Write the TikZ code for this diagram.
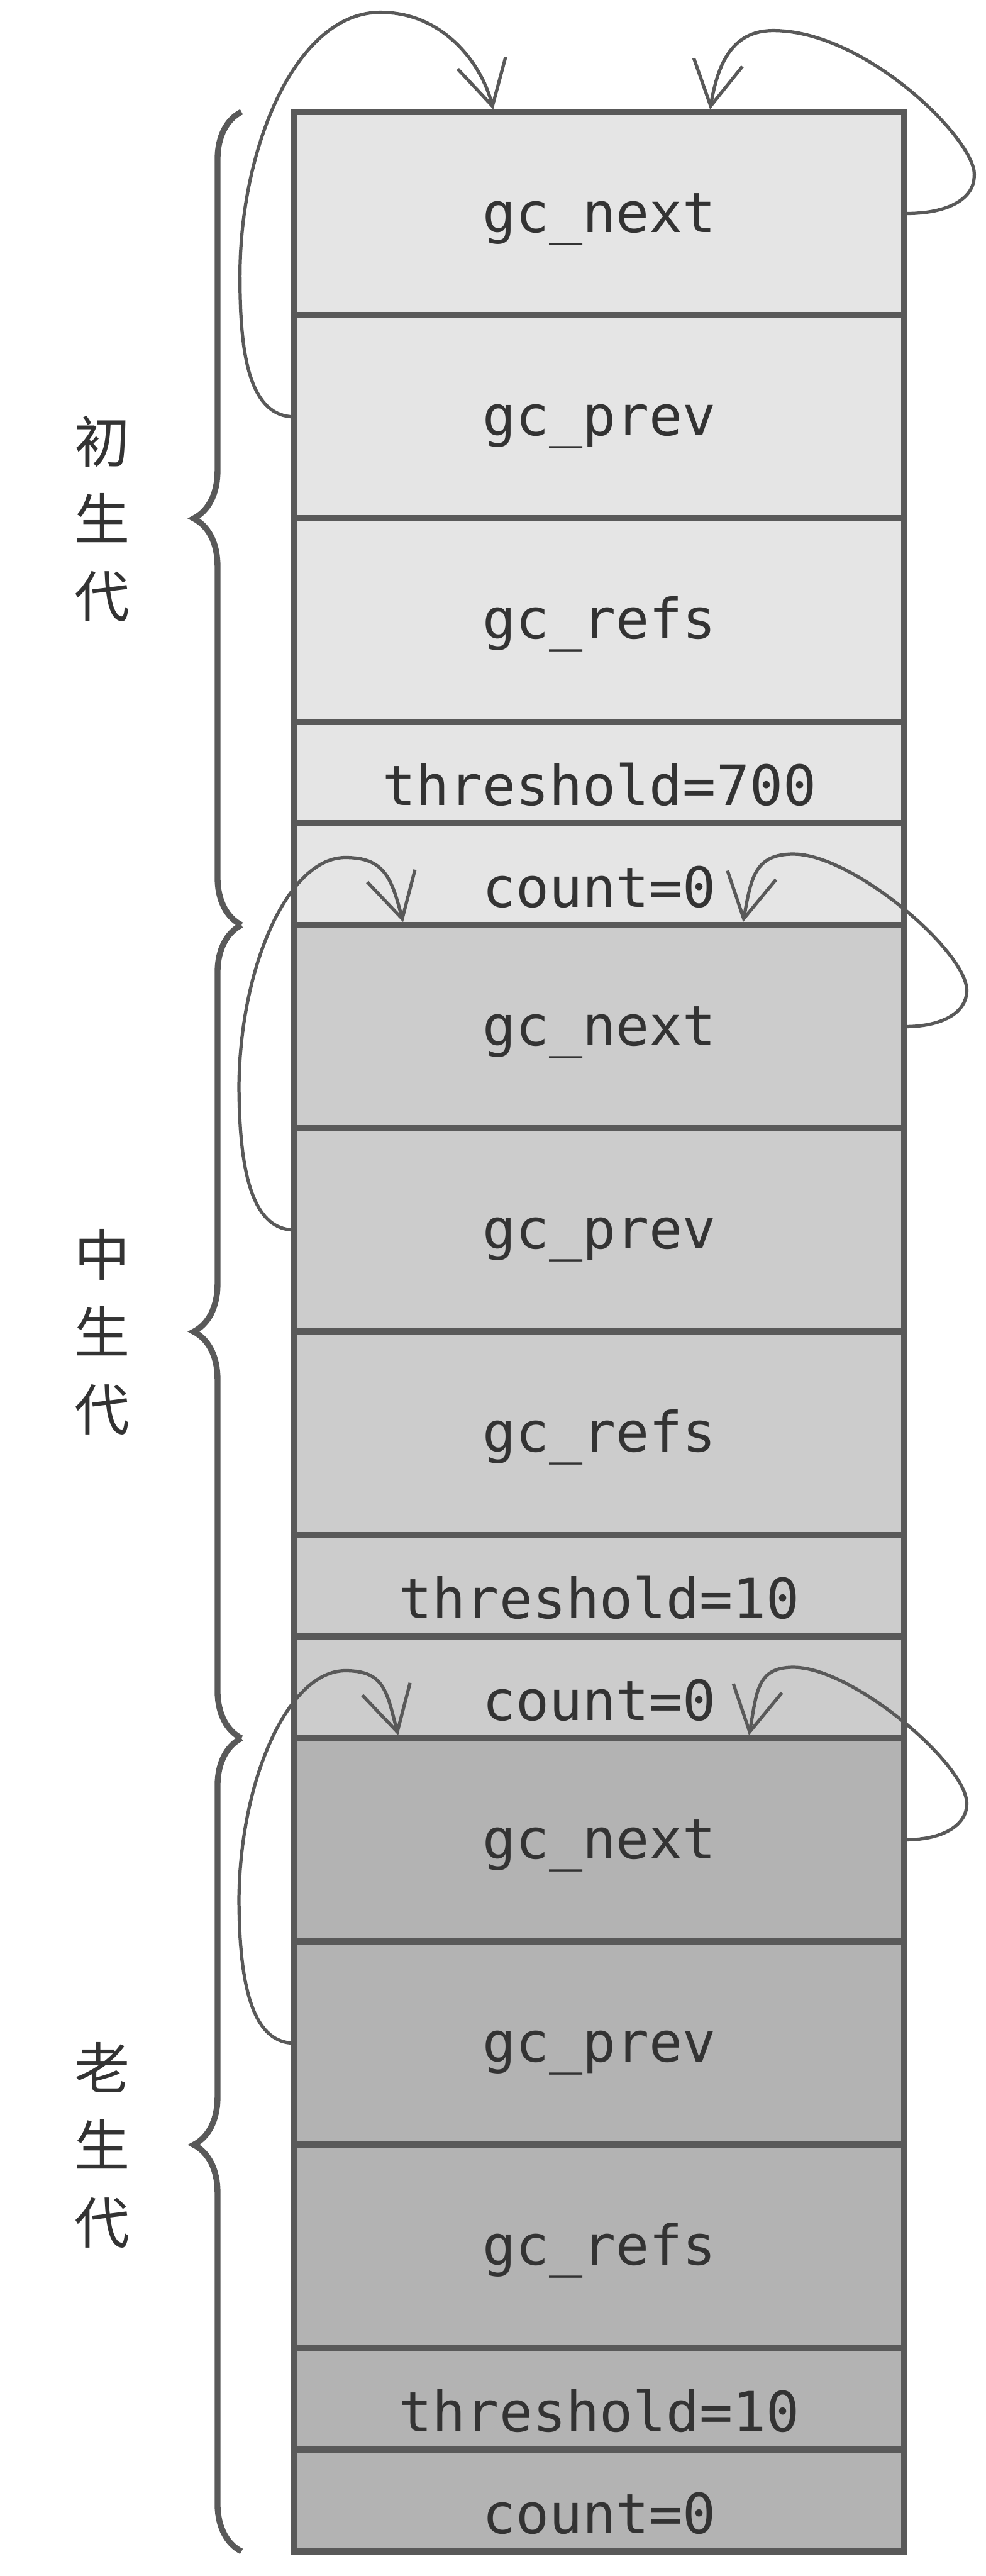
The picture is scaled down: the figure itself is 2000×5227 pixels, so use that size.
\documentclass[tikz,border=0pt]{standalone}
\usepackage{fontspec}
\newfontfamily\monof{DejaVu Sans Mono}
\newfontfamily\cjkf{Noto Sans CJK SC}
\usetikzlibrary{arrows.meta,decorations.pathreplacing}
\definecolor{lc}{HTML}{595959}
\definecolor{tc}{HTML}{333333}
\definecolor{ga}{HTML}{E5E5E5}
\definecolor{gb}{HTML}{CCCCCC}
\definecolor{gcc}{HTML}{B3B3B3}
\begin{document}
\begin{tikzpicture}[x=0.01cm,y=-0.01cm,
  cell/.style={draw=lc, line width=3.6pt, rectangle, inner sep=0pt, outer sep=0pt,
    minimum width=12.37cm, text=tc, font=\monof\fontsize{32}{38}\selectfont, text depth=0pt},
  big/.style={cell, minimum height=4.125cm, text height=0.76cm},
  small/.style={cell, minimum height=2.0625cm, text height=1.34cm},
  gbrace/.style={draw=lc, line width=3.4pt, decorate, decoration={brace, amplitude=0.97cm}},
  lab/.style={font=\cjkf\fontsize{32}{44.7}\selectfont, align=center, text=tc, inner sep=0pt},
  arr/.style={draw=lc, line width=1.9pt, -{Straight Barb[length=0.9cm, width=1.0cm]}}
]
\useasboundingbox (0,0) rectangle (2000,5227);

% generation 1
\node[big, fill=ga] (next1) at (1216.5,433.25) {gc\_next};
\node[big, fill=ga] (prev1) at (1216.5,845.75) {gc\_prev};
\node[big, fill=ga] (refs1) at (1216.5,1258.25) {gc\_refs};
\node[small, fill=ga] (thr1) at (1216.5,1567.625) {threshold=700};
\node[small, fill=ga] (cnt1) at (1216.5,1773.875) {count=0};
% generation 2
\node[big, fill=gb] (next2) at (1216.5,2083.25) {gc\_next};
\node[big, fill=gb] (prev2) at (1216.5,2495.75) {gc\_prev};
\node[big, fill=gb] (refs2) at (1216.5,2908.25) {gc\_refs};
\node[small, fill=gb] (thr2) at (1216.5,3217.625) {threshold=10};
\node[small, fill=gb] (cnt2) at (1216.5,3423.875) {count=0};
% generation 3
\node[big, fill=gcc] (next3) at (1216.5,3733.25) {gc\_next};
\node[big, fill=gcc] (prev3) at (1216.5,4145.75) {gc\_prev};
\node[big, fill=gcc] (refs3) at (1216.5,4558.25) {gc\_refs};
\node[small, fill=gcc] (thr3) at (1216.5,4867.625) {threshold=10};
\node[small, fill=gcc] (cnt3) at (1216.5,5073.875) {count=0};

% braces
\draw[gbrace] (490,1877) -- (490,227);
\draw[gbrace] (490,3527) -- (490,1877);
\draw[gbrace] (490,5177) -- (490,3527);

% labels
\node[lab] (lab1) at (208,1053) {初\\生\\代};
\node[lab] (lab2) at (208,2703) {中\\生\\代};
\node[lab] (lab3) at (208,4353) {老\\生\\代};

% arrow end points
\coordinate (t1l) at (1001,222);
\coordinate (t1r) at (1441,222);
\coordinate (t2l) at (818,1871);
\coordinate (t2r) at (1508,1871);
\coordinate (t3l) at (808,3521);
\coordinate (t3r) at (1520,3521);

% generation 1 arrows
\draw[arr] (prev1.west) .. controls (500,845.75) and (487,700) .. (487,560)
  .. controls (487,300) and (600,25) .. (772,25)
  .. controls (900,25) and (978,130) .. (t1l);
\draw[arr] (next1.east) .. controls (1930,434) and (1977,400) .. (1977,357)
  .. controls (1985,290) and (1760,62) .. (1569,62)
  .. controls (1480,62) and (1455,140) .. (t1r);

% generation 2 arrows
\draw[arr] (prev2.west) .. controls (520,2495.75) and (485,2400) .. (485,2200)
  .. controls (488,1960) and (585,1740) .. (701,1740)
  .. controls (780,1740) and (795,1782) .. (t2l);
\draw[arr] (next2.east) .. controls (1920,2083.25) and (1962,2050) .. (1962,2010)
  .. controls (1962,1930) and (1730,1733) .. (1610,1733)
  .. controls (1530,1733) and (1524,1784) .. (t2r);

% generation 3 arrows
\draw[arr] (prev3.west) .. controls (520,4145.75) and (485,4050) .. (485,3850)
  .. controls (488,3610) and (585,3390) .. (701,3390)
  .. controls (780,3390) and (785,3432) .. (t3l);
\draw[arr] (next3.east) .. controls (1920,3733.25) and (1962,3700) .. (1962,3660)
  .. controls (1962,3580) and (1730,3383) .. (1610,3383)
  .. controls (1535,3383) and (1536,3434) .. (t3r);
\end{tikzpicture}
\end{document}
